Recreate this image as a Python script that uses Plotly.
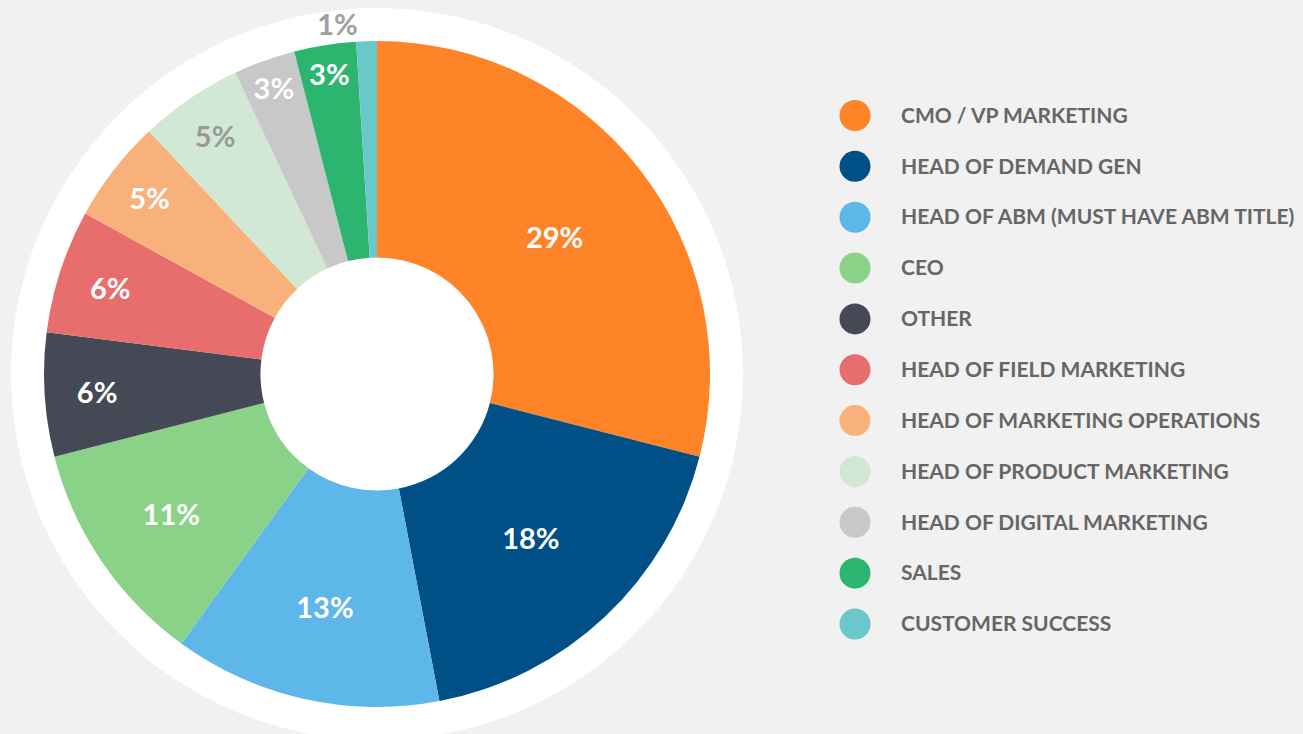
import plotly.graph_objects as go

categories = [
    "CMO / VP MARKETING",
    "HEAD OF DEMAND GEN",
    "HEAD OF ABM (MUST HAVE ABM TITLE)",
    "CEO",
    "OTHER",
    "HEAD OF FIELD MARKETING",
    "HEAD OF MARKETING OPERATIONS",
    "HEAD OF PRODUCT MARKETING",
    "HEAD OF DIGITAL MARKETING",
    "SALES",
    "CUSTOMER SUCCESS",
]
values = [29, 18, 13, 11, 6, 6, 5, 5, 3, 3, 1]
colors = ["#FF8427", "#004F87", "#5DB7E8", "#89D287", "#454955", "#E76E6C",
          "#F8B17A", "#D0E8D4", "#C8C8C8", "#2BB56E", "#6AC8CA"]
text_colors = ["white", "white", "white", "white", "white", "white",
               "white", "#9A9A9A", "white", "white", "#A0A0A0"]
text_positions = ["inside"] * 10 + ["outside"]

W, H = 1303, 734
cx, cy, R, R_ring = 377, 374, 333, 366

fig = go.Figure()

fig.add_trace(go.Pie(
    labels=categories,
    values=values,
    sort=False,
    direction="clockwise",
    rotation=0,
    hole=0.35,
    marker=dict(colors=colors, line=dict(width=0)),
    texttemplate="%{value}%",
    textposition=text_positions,
    insidetextorientation="horizontal",
    textfont=dict(family="Lato", size=29, color=text_colors, weight="bold"),
    showlegend=False,
    hoverinfo="label+percent",
    domain=dict(x=[(cx - R) / W, (cx + R) / W], y=[1 - (cy + R) / H, 1 - (cy - R) / H]),
))

# legend column drawn as a scatter: marker dots and labels
step = 50.85
y_top_px = 115.5
text_shift_px = 2.0
idx = list(range(len(categories)))
fig.add_trace(go.Scatter(
    x=[0] * len(categories), y=idx, mode="markers",
    marker=dict(size=31, color=colors, line=dict(width=0)),
    hoverinfo="skip", showlegend=False,
))
fig.add_trace(go.Scatter(
    x=[1] * len(categories), y=[i + text_shift_px / step for i in idx], mode="text", text=categories,
    textposition="middle right",
    textfont=dict(family="Lato", size=21, color="#666666", weight="bold"),
    hoverinfo="skip", showlegend=False,
))

r_top = -y_top_px / step
r_bot = r_top + H / step
x_step = 46
x0_px = 855
rx0 = -x0_px / x_step
rx1 = rx0 + W / x_step

fig.update_layout(
    width=W, height=H,
    margin=dict(l=0, r=0, t=0, b=0),
    paper_bgcolor="#F1F1F1",
    plot_bgcolor="rgba(0,0,0,0)",
    xaxis=dict(range=[rx0, rx1], visible=False, domain=[0, 1], fixedrange=True),
    yaxis=dict(range=[r_bot, r_top], visible=False, domain=[0, 1], fixedrange=True),
    uniformtext=dict(minsize=29, mode="show"),
    shapes=[dict(
        type="circle", xref="paper", yref="paper", layer="below",
        x0=(cx - R_ring) / W, x1=(cx + R_ring) / W,
        y0=1 - (cy + R_ring) / H, y1=1 - (cy - R_ring) / H,
        fillcolor="white", line=dict(width=0),
    )],
)

fig.write_html(
    "out.html",
    config={"displayModeBar": False},
    post_script="document.body.style.margin='0';document.body.style.background='#F1F1F1';document.body.style.overflow='hidden';",
)
